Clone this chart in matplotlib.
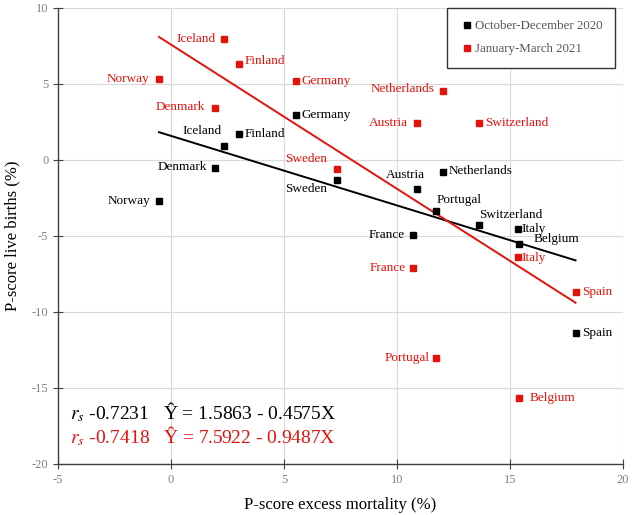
import numpy as np
import matplotlib.pyplot as plt

plt.rcParams['font.family'] = ['Liberation Serif', 'DejaVu Serif']
plt.rcParams['mathtext.fontset'] = 'stix'
plt.rcParams['axes.unicode_minus'] = False

RED = '#E3120B'

countries = ['Norway', 'Denmark', 'Iceland', 'Finland', 'Germany', 'Sweden', 'Austria',
             'Netherlands', 'Portugal', 'Switzerland', 'France', 'Italy', 'Belgium', 'Spain']
mortality = [-0.53, 1.95, 2.35, 3.0, 5.53, 7.33, 10.87, 12.03, 11.74, 13.65, 10.71, 15.34, 15.42, 17.9]
births_q4 = [-2.7, -0.53, 0.92, 1.7, 2.96, -1.3, -1.9, -0.79, -3.36, -4.28, -4.95, -4.54, -5.5, -11.4]
births_q1 = [5.3, 3.42, 7.94, 6.3, 5.22, -0.6, 2.43, 4.56, -13.0, 2.43, -7.13, -6.38, -15.66, -8.7]

# regression coefficients as printed on the chart
fit_q4 = (1.5863, -0.4575)
fit_q1 = (7.5922, -0.9487)
rs_q4 = -0.7231
rs_q1 = -0.7418

# label offsets (points) and alignment per country
lab_q4 = {'Norway': (-6, 0, 'right'), 'Denmark': (-6, 1, 'right'), 'Iceland': (-2, 11, 'right'),
          'Finland': (4, 0, 'left'), 'Germany': (4, 0, 'left'), 'Sweden': (-7, -7, 'right'),
          'Austria': (-8, 10, 'center'), 'Netherlands': (4, 1, 'left'), 'Portugal': (0, 8, 'left'),
          'Switzerland': (0, 7, 'left'), 'France': (-6, 0, 'right'), 'Italy': (3, 0, 'left'),
          'Belgium': (10, 3, 'left'), 'Spain': (5, 0, 'left')}
lab_q1 = {'Norway': (-7, 0, 'right'), 'Denmark': (-7, 1, 'right'), 'Iceland': (-6, 0, 'right'),
          'Finland': (4, 2, 'left'), 'Germany': (4, 0, 'left'), 'Sweden': (-7, 7, 'right'),
          'Austria': (-6, 0, 'right'), 'Netherlands': (-6, 1, 'right'), 'Portugal': (-5, 0, 'right'),
          'Switzerland': (4, 0, 'left'), 'France': (-5, 0, 'right'), 'Italy': (3, -1, 'left'),
          'Belgium': (7, 0, 'left'), 'Spain': (5, 0, 'left')}

fig = plt.figure(figsize=(6.33, 5.15), dpi=100)
ax = fig.add_axes([58 / 633, 1 - 464 / 515, 565 / 633, 456 / 515])

ax.plot(mortality, births_q4, 's', color='black', markersize=4.3, label='October-December 2020', zorder=3)
ax.plot(mortality, births_q1, 's', color=RED, markersize=4.3, label='January-March 2021', zorder=3)

xs = np.array([min(mortality), max(mortality)])
ax.plot(xs, fit_q4[0] + fit_q4[1] * xs, color='black', lw=1.4, zorder=2)
ax.plot(xs, fit_q1[0] + fit_q1[1] * xs, color=RED, lw=1.4, zorder=2)

for i, c in enumerate(countries):
    dx, dy, ha = lab_q4[c]
    ax.annotate(c, (mortality[i], births_q4[i]), xytext=(dx, dy), textcoords='offset points',
                ha=ha, va='center', fontsize=9.5, color='black')
    dx, dy, ha = lab_q1[c]
    ax.annotate(c, (mortality[i], births_q1[i]), xytext=(dx, dy), textcoords='offset points',
                ha=ha, va='center', fontsize=9.5, color=RED)

ax.text(-4.45, -16.6, r'$r_s$ %.4f   Ŷ = %.4f - %.4fX' % (rs_q4, fit_q4[0], -fit_q4[1]),
        fontsize=14, color='black', va='center')
ax.text(-4.45, -18.15, r'$r_s$ %.4f   Ŷ = %.4f - %.4fX' % (rs_q1, fit_q1[0], -fit_q1[1]),
        fontsize=14, color=RED, va='center')

ax.set_xlim(-5, 20)
ax.set_ylim(-20, 10)
ax.set_xticks(range(-5, 21, 5))
ax.set_yticks(range(-20, 11, 5))
ax.grid(color='#DADADA', lw=0.8)
ax.set_axisbelow(True)
for s in ['top', 'right']:
    ax.spines[s].set_visible(False)
for s in ['left', 'bottom']:
    ax.spines[s].set_color('#404040')
    ax.spines[s].set_linewidth(1.0)
ax.tick_params(direction='inout', length=7, color='#404040', labelcolor='#808080', labelsize=9)
ax.set_xlabel('P-score excess mortality (%)', fontsize=12, labelpad=8)
ax.set_ylabel('P-score live births (%)', fontsize=12, labelpad=8)

leg = ax.legend(loc='upper right', bbox_to_anchor=(0.986, 1.0), borderaxespad=0, fontsize=9.3,
                handletextpad=0.0, handlelength=1.2, labelspacing=0.85, borderpad=0.95, fancybox=False,
                edgecolor='#333333', framealpha=1, markerscale=0.9)
leg.get_frame().set_linewidth(1.0)
for t in leg.get_texts():
    t.set_color('#555555')

fig.savefig('out.png', dpi=100)
